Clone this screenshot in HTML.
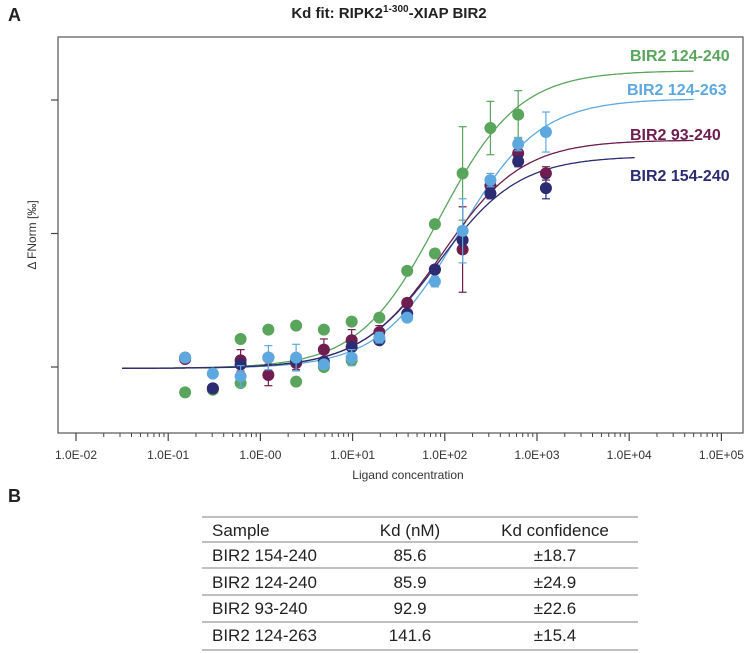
<!DOCTYPE html>
<html><head><meta charset="utf-8"><style>
body{margin:0;background:#fff;}
svg{display:block;font-family:"Liberation Sans",Arial,sans-serif;}
</style></head><body>
<svg id="chart" width="750" height="653" viewBox="0 0 750 653" xmlns="http://www.w3.org/2000/svg">
<text x="8" y="21" font-size="18" font-weight="bold" fill="#222">A</text>
<text x="389" y="18" font-size="15" font-weight="bold" fill="#222" text-anchor="middle">Kd fit: RIPK2<tspan font-size="10" dy="-6">1-300</tspan><tspan dy="6">-XIAP BIR2</tspan></text>
<rect x="58" y="37" width="685" height="396" fill="none" stroke="#555" stroke-width="1.2"/>
<g id="xticks"></g>
<g id="yticks"></g>
<text x="408" y="479" font-size="12" fill="#333" text-anchor="middle">Ligand concentration</text>
<text transform="translate(36,235) rotate(-90)" font-size="12" fill="#333" text-anchor="middle">Δ FNorm [‰]</text>
<g id="curves"></g>
<g id="points"></g>
<g id="legend"></g>
<text x="8" y="502" font-size="18" font-weight="bold" fill="#222">B</text>
<g font-size="17" fill="#222">
<g stroke="#999" stroke-width="1.3">
<line x1="202" x2="638" y1="517" y2="517"/><line x1="202" x2="638" y1="542" y2="542"/>
<line x1="202" x2="638" y1="568" y2="568"/><line x1="202" x2="638" y1="595" y2="595"/>
<line x1="202" x2="638" y1="622" y2="622"/><line x1="202" x2="638" y1="650" y2="650"/>
</g>
<text x="212" y="536">Sample</text>
<text x="410" y="536" text-anchor="middle">Kd (nM)</text>
<text x="555" y="536" text-anchor="middle">Kd confidence</text>
<text x="212" y="561">BIR2 154-240</text>
<text x="410" y="561" text-anchor="middle">85.6</text>
<text x="555" y="561" text-anchor="middle">±18.7</text>
<text x="212" y="588">BIR2 124-240</text>
<text x="410" y="588" text-anchor="middle">85.9</text>
<text x="555" y="588" text-anchor="middle">±24.9</text>
<text x="212" y="614">BIR2 93-240</text>
<text x="410" y="614" text-anchor="middle">92.9</text>
<text x="555" y="614" text-anchor="middle">±22.6</text>
<text x="212" y="641">BIR2 124-263</text>
<text x="410" y="641" text-anchor="middle">141.6</text>
<text x="555" y="641" text-anchor="middle">±15.4</text>
</g>
</svg>
<script>
const concentrations=[0.1526,0.305,0.61,1.22,2.44,4.88,9.77,19.5,39.1,78.1,156,312.5,625,1250];
const greenValues=[-1.9,-1.7,2.1,2.8,3.1,2.8,3.4,3.7,7.2,10.7,14.5,17.9,18.9,null];
const greenExtra=[null,null,-1.2,null,-1.1,0.0,0.5,null,null,8.5,null,null,null,null];
const blueValues=[0.7,-0.5,-0.7,0.7,0.7,0.2,0.7,2.2,3.7,6.4,10.2,14.0,16.7,17.6];
const purpleValues=[0.6,-1.6,0.5,-0.6,0.3,1.3,2.0,2.6,4.8,7.3,8.8,13.6,16.0,14.5];
const navyValues=[0.7,-1.6,0.2,0.7,0.5,0.4,1.5,2.0,4.0,7.3,9.5,13.0,15.4,13.4];
const greenErr=[0,0,0,0,0,0,0,0,0,0,3.5,2.0,1.8,0];
const blueErr=[0,0,0.8,0.9,1.0,0,0.6,0.4,0.3,0.4,2.4,0.5,0.5,1.5];
const purpleErr=[0,0,0.8,0.8,0.5,0.8,0.8,0.5,0.3,0.2,3.2,0.4,0.4,0.5];
const navyErr=[0,0,0,0,0,0,0,0,0,0,0,0.4,0.4,0.8];
const seriesNames=["BIR2 124-240","BIR2 124-263","BIR2 93-240","BIR2 154-240"];
const kdValues=[85.9,141.6,92.9,85.6];
const topValues=[22.2,20.1,17.0,15.8];
const baseValue=-0.1;
const curveEndLog=[4.7,4.7,4.7,4.07];
const xTickLabels=["1.0E-02","1.0E-01","1.0E-00","1.0E+01","1.0E+02","1.0E+03","1.0E+04","1.0E+05"];
const yTickValues=[0,10,20];

const colors=["#5aa55c","#5ea8e0","#6e1d4e","#2b2c72"];
const NS="http://www.w3.org/2000/svg";
function xs(c){return 76+92.2*(Math.log10(c)+2);}
function xl(l){return 76+92.2*(l+2);}
function ys(v){return 367-13.35*v;}
function mk(tag,attrs,parent){const e=document.createElementNS(NS,tag);for(const k in attrs)e.setAttribute(k,attrs[k]);parent.appendChild(e);return e;}

const xg=document.getElementById('xticks');
for(let d=-2;d<=5;d++){
  const t=mk('line',{x1:xl(d),x2:xl(d),y1:433,y2:441,stroke:'#444','stroke-width':1.2},xg);
  
  
  const lb=mk('text',{x:xl(d),y:459,'font-size':12,fill:'#333','text-anchor':'middle'},xg);
  lb.textContent=xTickLabels[d+2];
  
  
  if(d<5){for(let m=2;m<=9;m++){
    const mx=xl(d+Math.log10(m));
    const mt=mk('line',{x1:mx,x2:mx,y1:433,y2:437,stroke:'#444','stroke-width':1},xg);
    
    
  }}
}
const yg=document.getElementById('yticks');
yTickValues.forEach(v=>{
  const t=mk('line',{x1:51,x2:58,y1:ys(v),y2:ys(v),stroke:'#444','stroke-width':1.2},yg);
  
  
});

const cg=document.getElementById('curves');
for(let s=0;s<4;s++){
  let d='';
  for(let l=-1.5;l<=curveEndLog[s]+1e-9;l+=0.02){
    const c=Math.pow(10,l);
    const v=baseValue+(topValues[s]-baseValue)*c/(c+kdValues[s]);
    d+=(d?'L':'M')+xl(l).toFixed(1)+','+ys(v).toFixed(1);
  }
  const p=mk('path',{d:d,fill:'none',stroke:colors[s],'stroke-width':1.3},cg);
  
  
}

const pg=document.getElementById('points');
function drawSeries(vals,errs,col,name){
  vals.forEach((v,i)=>{
    if(v===null)return;
    const x=xs(concentrations[i]),y=ys(v);
    const e=errs?errs[i]:0;
    if(e>0){
      const g=mk('g',{stroke:col,'stroke-width':1.2},pg);
      
      
      mk('line',{x1:x,x2:x,y1:ys(v+e),y2:ys(v-e)},g);
      mk('line',{x1:x-4,x2:x+4,y1:ys(v+e),y2:ys(v+e)},g);
      mk('line',{x1:x-4,x2:x+4,y1:ys(v-e),y2:ys(v-e)},g);
    }
    const c=mk('circle',{cx:x,cy:y,r:6,fill:col},pg);
    
    
  });
}
drawSeries(greenValues,greenErr,colors[0],'bir2-124-240');
drawSeries(greenExtra,null,colors[0],'bir2-124-240');
drawSeries(purpleValues,purpleErr,colors[2],'bir2-93-240');
drawSeries(navyValues,navyErr,colors[3],'bir2-154-240');
drawSeries(blueValues,blueErr,colors[1],'bir2-124-263');

const lg=document.getElementById('legend');
const legY=[61,95,140,181];
const legX=[630,627,630,630];
for(let s=0;s<4;s++){
  const t=mk('text',{x:legX[s],y:legY[s],'font-size':16,'font-weight':'bold',fill:colors[s]},lg);
  t.textContent=seriesNames[s];
  
  
}
</script>
</body></html>
